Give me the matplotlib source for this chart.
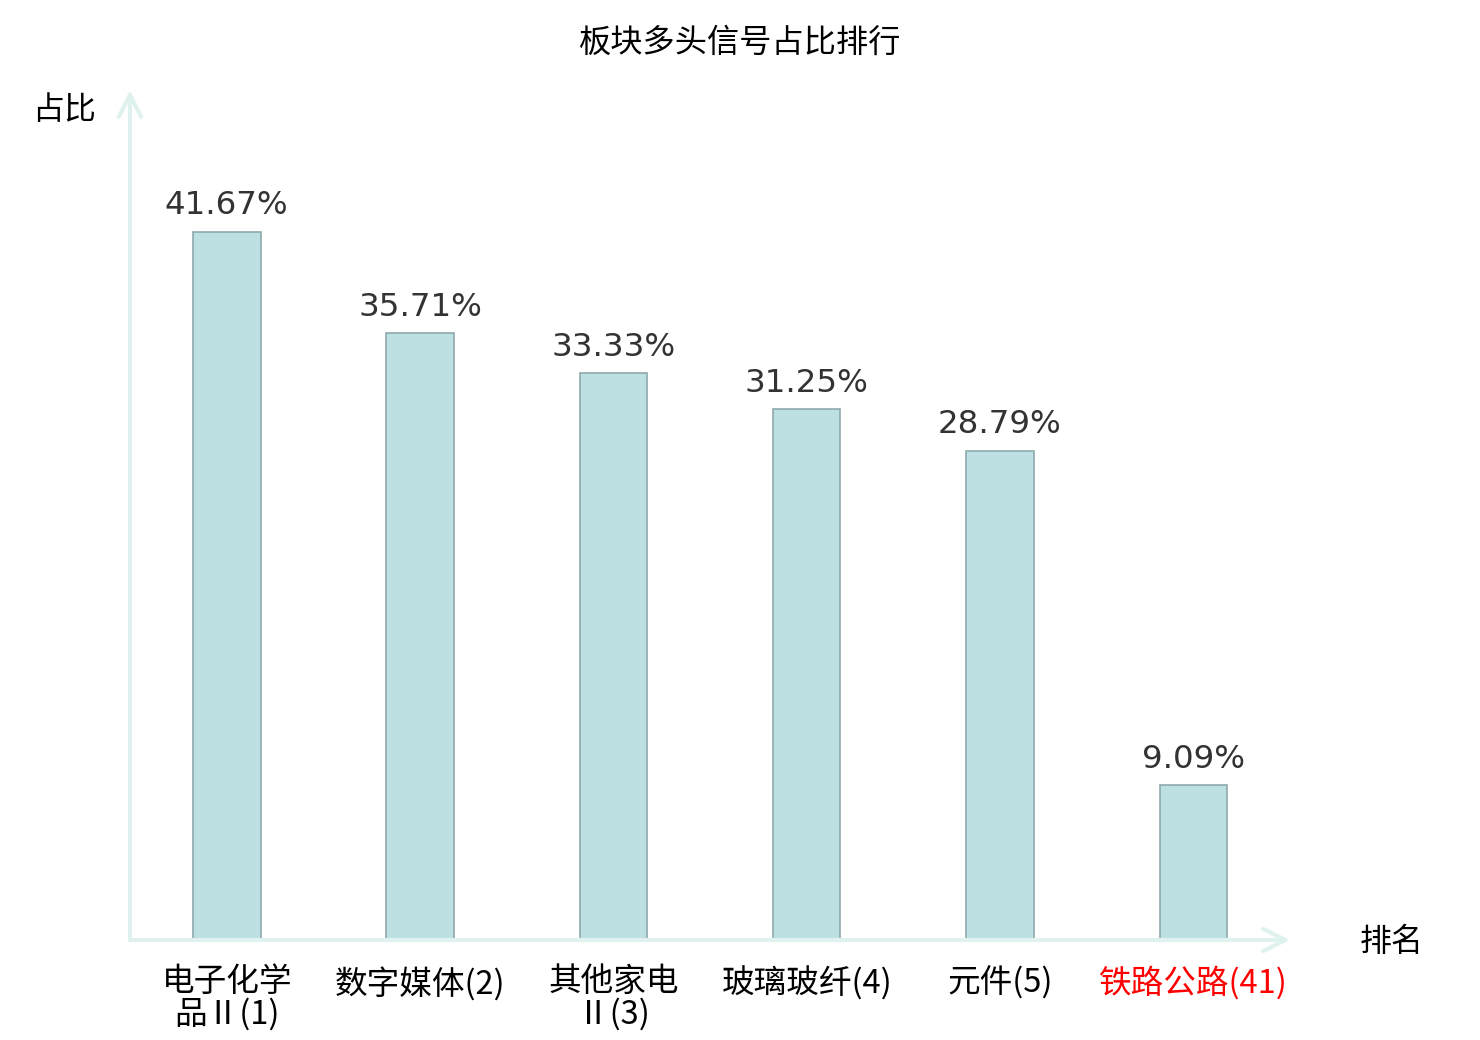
import numpy as np
import matplotlib
matplotlib.use("Agg")
import matplotlib.pyplot as plt

CATEGORIES = ["电子化学\n品Ⅱ(1)", "数字媒体(2)", "其他家电\nⅡ(3)", "玻璃玻纤(4)", "元件(5)", "铁路公路(41)"]
VALUES     = [41.67, 35.71, 33.33, 31.25, 28.79, 9.09]
HIGHLIGHT  = [False, False, False, False, False, True]

BAR_COLOR  = "#bde0e3"
EDGE_COLOR = "#8fa9ab"
AXIS_COLOR = "#dff2ef"

plt.rcParams["font.family"] = ["Noto Sans CJK SC", "DejaVu Sans"]

fig = plt.figure(figsize=(14.8, 10.4), dpi=100)
ax = fig.add_axes([130 / 1480, 100 / 1040, 1160 / 1480, 850 / 1040])

x = np.arange(len(CATEGORIES))
ax.bar(x, VALUES, width=0.35, color=BAR_COLOR, edgecolor=EDGE_COLOR, linewidth=1.2, zorder=2)

for xi, v in zip(x, VALUES):
    ax.text(xi, v + 0.6, f"{v:.2f}%", ha="center", va="bottom", fontsize=23.4,
            color="#333333", family="DejaVu Sans")

ax.set_xlim(-0.5, 5.5)
ax.set_ylim(0, 50)
for s in ax.spines.values():
    s.set_visible(False)
ax.set_yticks([])
ax.set_xticks(x)
ax.set_xticklabels(CATEGORIES, fontsize=23.5, linespacing=1.0)
ax.tick_params(axis="x", length=0, pad=19)
for lbl, hl in zip(ax.get_xticklabels(), HIGHLIGHT):
    lbl.set_color("red" if hl else "black")

# axis arrows
arrow = dict(arrowstyle="->", color=AXIS_COLOR, lw=3, mutation_scale=40, shrinkA=0, shrinkB=0)
ax.annotate("", xy=(1, 0), xytext=(0, 0), xycoords="axes fraction", arrowprops=arrow, annotation_clip=False)
ax.annotate("", xy=(0, 1), xytext=(0, 0), xycoords="axes fraction", arrowprops=arrow, annotation_clip=False)

fig.text(64 / 1480, 1 - 110 / 1040, "占比", ha="center", va="center", fontsize=23)
fig.text(1392 / 1480, 1 - 942 / 1040, "排名", ha="center", va="center", fontsize=23)
fig.text(740 / 1480, 1 - 43 / 1040, "板块多头信号占比排行", ha="center", va="center", fontsize=23.2)

fig.savefig("out.png", dpi=100)
